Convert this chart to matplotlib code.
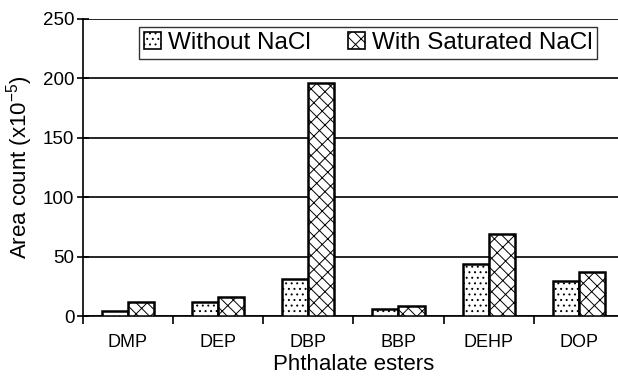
import matplotlib
matplotlib.use("Agg")
import matplotlib.pyplot as plt
import numpy as np

plt.rcParams["font.family"] = ["Liberation Sans", "DejaVu Sans"]
plt.rcParams["mathtext.fontset"] = "custom"
plt.rcParams["mathtext.rm"] = "Liberation Sans"
plt.rcParams["mathtext.default"] = "rm"
plt.rcParams["hatch.linewidth"] = 0.7

esters = ["DMP", "DEP", "DBP", "BBP", "DEHP", "DOP"]
without_nacl = [4.4, 12, 30.8, 5.6, 44, 29.6]
with_nacl = [12, 15.7, 195.5, 8.4, 68.5, 36.6]

fig = plt.figure(figsize=(6.18, 3.77), dpi=100)
ax = fig.add_axes([0.1338, 0.1618, 0.876, 0.789])

x = np.arange(len(esters))
w = 0.29
ax.bar(x - w / 2, without_nacl, w, color="white", edgecolor="black",
       linewidth=1.8, hatch="...", label="Without NaCl", zorder=3)
ax.bar(x + w / 2, with_nacl, w, color="white", edgecolor="black",
       linewidth=1.8, hatch="\\\\\\//", label="With Saturated NaCl", zorder=3)

ax.set_xlim(-0.5, len(esters) - 0.5)
ax.set_ylim(0, 250)
ax.set_yticks(range(0, 251, 50))
ax.yaxis.grid(True, color="black", linewidth=1.2, zorder=0)
ax.set_axisbelow(True)

# category labels centred, ticks on the group boundaries
ax.set_xticks(x)
ax.set_xticklabels(esters, fontsize=13)
ax.set_xticks(np.arange(-0.5, len(esters), 1), minor=True)
ax.tick_params(axis="x", which="major", length=0, pad=13)
ax.tick_params(axis="x", which="minor", length=6, width=1.2, direction="out")
ax.tick_params(axis="y", labelsize=13.5, length=8, width=1.2,
               direction="inout", pad=2)

for side in ("top", "right"):
    ax.spines[side].set_visible(False)
for side in ("left", "bottom"):
    ax.spines[side].set_linewidth(1.2)

ax.set_xlabel("Phthalate esters", fontsize=16, labelpad=2)
ax.set_ylabel("Area count (x10$^{-5}$)", fontsize=16, labelpad=6)

leg = ax.legend(loc="center", bbox_to_anchor=(0.596, 0.885),
                bbox_transform=fig.transFigure, ncol=2, fontsize=17.5,
                frameon=True, fancybox=False, handlelength=0.7,
                handleheight=0.7, handletextpad=0.3, columnspacing=1.5,
                borderpad=0.2, borderaxespad=0)
leg.get_frame().set_edgecolor("black")
leg.get_frame().set_linewidth(1.0)
for patch in leg.get_patches():
    patch.set_linewidth(1.2)

fig.savefig("out.png", dpi=100)
